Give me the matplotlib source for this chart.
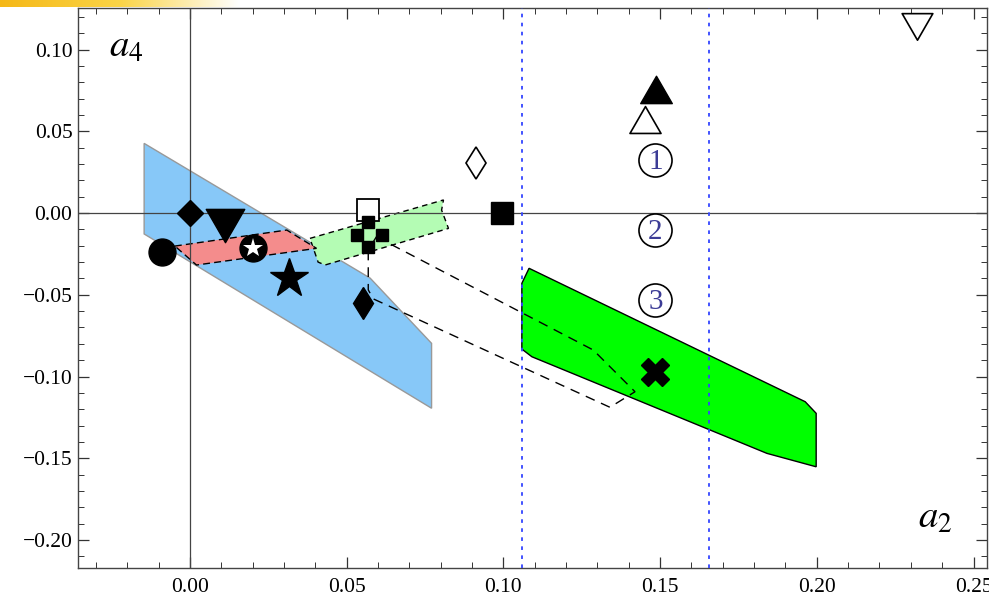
import numpy as np
import matplotlib.pyplot as plt
from matplotlib.patches import Polygon
from matplotlib.path import Path
from matplotlib.colors import LinearSegmentedColormap
from matplotlib.ticker import MultipleLocator, FuncFormatter

plt.rcParams['font.family'] = ['Liberation Serif', 'DejaVu Serif']
plt.rcParams['mathtext.fontset'] = 'stix'

# allowed regions in the (a2, a4) plane
blue_region = [(-0.0146, 0.0426), (0.0575, -0.0398), (0.0771, -0.0797),
               (0.0771, -0.1194), (-0.0146, -0.0128)]
red_region = [(-0.0048, -0.0202), (0.0309, -0.0104), (0.0404, -0.0216),
              (0.0021, -0.0318)]
pale_green_region = [(0.0383, -0.0155), (0.0809, 0.0080), (0.0803, 0.0018),
                     (0.0825, -0.0094), (0.0431, -0.0318), (0.0409, -0.0300)]
green_region = [(0.1082, -0.0338), (0.1963, -0.1154), (0.1998, -0.1225),
                (0.1998, -0.1552), (0.1841, -0.1470), (0.1091, -0.0879),
                (0.1059, -0.0832), (0.1059, -0.0430)]
dashed_region = [(0.0595, -0.0145), (0.1287, -0.0838), (0.1420, -0.1093),
                 (0.1340, -0.1188), (0.0585, -0.0525), (0.0569, -0.0470),
                 (0.0569, -0.0226)]
a2_bounds = [0.1059, 0.1655]

# points
circle_pt = (-0.0089, -0.0239)
diamond_pt = (0.0, 0.0)
down_tri_pt = (0.0113, -0.0040)
star_circle_pt = (0.0202, -0.0216)
star_pt = (0.0315, -0.0397)
open_square_pt = (0.0569, 0.0018)
thin_diamond_pt = (0.0553, -0.0552)
small_squares_x = [0.0569, 0.0532, 0.0612, 0.0569]
small_squares_y = [-0.0053, -0.0135, -0.0135, -0.0206]
open_thin_diamond_pt = (0.0913, 0.0304)
square_pt = (0.0995, 0.0)
up_tri_pt = (0.1487, 0.0728)
open_up_tri_pt = (0.1451, 0.0543)
open_down_tri_pt = (0.2319, 0.1168)
cross_pt = (0.1484, -0.0971)
num_x = 0.1485
num_y = [0.0324, -0.0104, -0.0532]
num_labels = ['1', '2', '3']


def triangle(direction):
    v = np.array([(0, 1), (-0.866, -0.5), (0.866, -0.5), (0, 1)]) * direction
    return Path(v, closed=True)


tri_up = triangle(1)
tri_down = triangle(-1)

fig = plt.figure(figsize=(9.89, 6.06), dpi=100)
ax = fig.add_axes([78 / 989, 38 / 606, 909 / 989, 560 / 606])

ax.add_patch(Polygon(blue_region, closed=True, facecolor='#87C8F8',
                     edgecolor='#999999', lw=1, zorder=1))
ax.add_patch(Polygon(pale_green_region, closed=True, facecolor='#B4FCB4',
                     edgecolor='black', lw=1, ls=(0, (4, 3)), zorder=2))
ax.add_patch(Polygon(red_region, closed=True, facecolor='#F48C8C',
                     edgecolor='black', lw=1, ls=(0, (5, 3)), zorder=2))
ax.add_patch(Polygon(green_region, closed=True, facecolor='#00FF00',
                     edgecolor='black', lw=1, zorder=2))
ax.add_patch(Polygon(dashed_region, closed=True, fill=False,
                     edgecolor='black', lw=1, ls=(0, (7, 5)), zorder=3))

ax.axhline(0, color='#444444', lw=0.9, zorder=3)
ax.axvline(0, color='#444444', lw=0.9, zorder=3)
for xb in a2_bounds:
    ax.axvline(xb, color='#3344FF', lw=1.3, ls=(0, (2, 3)), zorder=3)

kw = dict(ls='none', zorder=5)
ax.plot(*circle_pt, marker='o', ms=19.4, color='black', **kw)
ax.plot(*diamond_pt, marker='D', ms=13.7, color='black', **kw)
ax.plot(*down_tri_pt, marker=tri_down, ms=32, color='black', **kw)
ax.plot(*star_circle_pt, marker='o', ms=19.4, color='black', **kw)
ax.plot(*star_circle_pt, marker='*', ms=15, color='white', mew=0, zorder=6, ls='none')
ax.plot(*star_pt, marker='*', ms=29.5, color='black', **kw)
ax.plot(*open_square_pt, marker='s', ms=15.6, mfc='white', mec='black', mew=1.3, **kw)
ax.plot(small_squares_x, small_squares_y, marker='s', ms=8.6, color='black', **kw)
ax.plot(*thin_diamond_pt, marker='d', ms=16.8, color='black', **kw)
ax.plot(*open_thin_diamond_pt, marker='d', ms=16.8, mfc='white', mec='black', mew=1.2, **kw)
ax.plot(*square_pt, marker='s', ms=15.8, color='black', **kw)
ax.plot(*up_tri_pt, marker=tri_up, ms=26.3, color='black', **kw)
ax.plot(*open_up_tri_pt, marker=tri_up, ms=25.8, mfc='white', mec='black', mew=1.2, **kw)
ax.plot(*open_down_tri_pt, marker=tri_down, ms=25.5, mfc='white', mec='black', mew=1.2, **kw)
ax.plot(*cross_pt, marker='X', ms=20, color='black', **kw)

for y, lab in zip(num_y, num_labels):
    ax.plot(num_x, y, marker='o', ms=23.8, mfc='white', mec='black', mew=1.2, **kw)
    ax.text(num_x, y - 0.0012, lab, fontsize=21, color='#3C3C96',
            ha='center', va='center', zorder=6)

ax.text(-0.0258, 0.0954, r'$a_4$', fontsize=28, va='baseline')
ax.text(0.2322, -0.1927, r'$a_2$', fontsize=28, va='baseline')

ax.set_xlim(-0.0357, 0.2543)
ax.set_ylim(-0.2171, 0.1254)
ax.xaxis.set_major_locator(MultipleLocator(0.05))
ax.xaxis.set_minor_locator(MultipleLocator(0.01))
ax.yaxis.set_major_locator(MultipleLocator(0.05))
ax.yaxis.set_minor_locator(MultipleLocator(0.01))
fmt = FuncFormatter(lambda v, p: f'{v:.2f}'.replace('-', '\u2212') if abs(v) > 1e-9 else '0.00')
ax.xaxis.set_major_formatter(fmt)
ax.yaxis.set_major_formatter(fmt)
ax.tick_params(which='both', direction='in', top=True, right=True,
               labelsize=15.5, color='#333333')
ax.tick_params(which='major', length=8, width=0.9)
ax.tick_params(which='minor', length=4.5, width=0.7)
ax.tick_params(axis='y', which='major', pad=4)
ax.tick_params(axis='x', which='major', pad=7)
for s in ax.spines.values():
    s.set_color('#444444')
    s.set_linewidth(1)

# yellow gradient strip in the top left corner
gax = fig.add_axes([0, 1 - 7 / 606, 240 / 989, 7 / 606])
cmap = LinearSegmentedColormap.from_list('strip', ['#F5B817', '#FAD447', '#FFFFFF'])
gax.imshow(np.linspace(0, 1, 256)[None, :], aspect='auto', cmap=cmap)
gax.axis('off')

fig.savefig('out.png', dpi=100)
